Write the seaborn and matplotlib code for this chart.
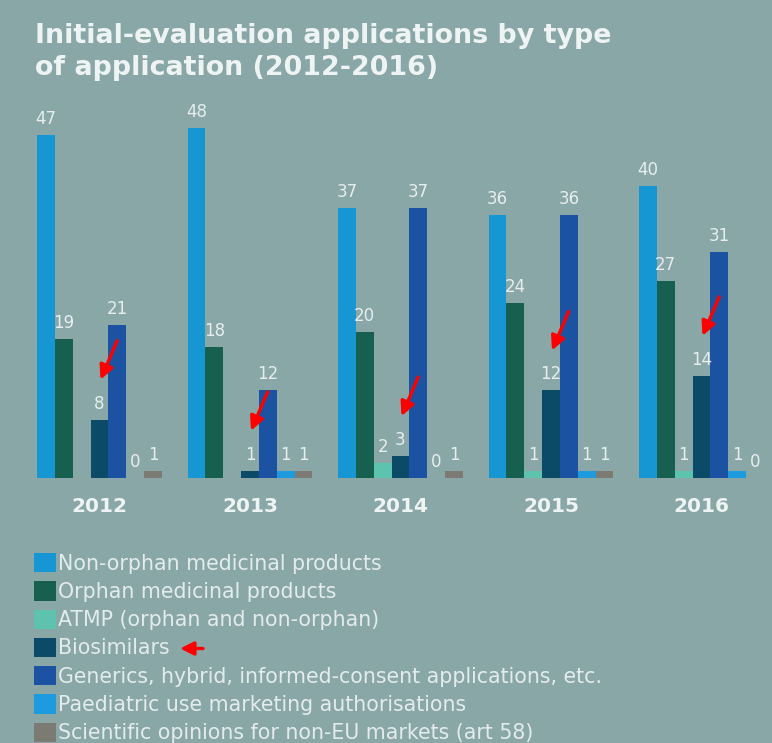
import numpy as np
import pandas as pd
import matplotlib
matplotlib.use("Agg")
import matplotlib.pyplot as plt
from matplotlib.patches import Patch
from matplotlib.transforms import offset_copy
import seaborn as sns

# Initial-evaluation applications, counts per year and application type
years = ["2012", "2013", "2014", "2015", "2016"]
non_orphan = [47, 48, 37, 36, 40]
orphan = [19, 18, 20, 24, 27]
atmp = [np.nan, np.nan, 2, 1, 1]
biosimilars = [8, 1, 3, 12, 14]
generics = [21, 12, 37, 36, 31]
paediatric = [0, 1, 0, 1, 1]
scientific = [1, 1, 1, 1, 0]

types = [
    "Non-orphan medicinal products",
    "Orphan medicinal products",
    "ATMP (orphan and non-orphan)",
    "Biosimilars",
    "Generics, hybrid, informed-consent applications, etc.",
    "Paediatric use marketing authorisations",
    "Scientific opinions for non-EU markets (art 58)",
]
colors = ["#1697d3", "#17604f", "#5ec3ae", "#0c4b68", "#1b52a2", "#1e9ade", "#7b7b73"]

series = [non_orphan, orphan, atmp, biosimilars, generics, paediatric, scientific]
df = pd.DataFrame(
    [(y, t, v) for t, vals in zip(types, series) for y, v in zip(years, vals)],
    columns=["year", "type", "count"],
)

bg = "#8aa7a7"
txt = "#eef3f3"

sns.set_theme(style="white")
plt.rcParams["font.family"] = ["DejaVu Sans"]

W, H = 772, 743
fig = plt.figure(figsize=(W / 100, H / 100), dpi=100)
fig.patch.set_facecolor(bg)

ax = fig.add_axes([0, 265 / H, 1, 365 / H])
ax.set_facecolor(bg)

sns.barplot(
    data=df, x="year", y="count", hue="type", hue_order=types,
    palette=colors, width=0.83, saturation=1, gap=0, legend=False,
    linewidth=0, edgecolor="none", ax=ax,
)

ax.set_ylim(0, 50)
ax.set_xlim(-99.5 / 150.5, (W - 99.5) / 150.5)
for s in ax.spines.values():
    s.set_visible(False)
ax.set_yticks([])
ax.set_xlabel("")
ax.set_ylabel("")
ax.tick_params(axis="x", length=0, pad=14, labelsize=14.5, labelcolor=txt)
for lab in ax.get_xticklabels():
    lab.set_fontweight("bold")

# value labels above every bar
for cont in ax.containers:
    ax.bar_label(
        cont, labels=[f"{int(v)}" for v in cont.datavalues],
        padding=5, fontsize=12, color="#e6eeee",
    )

# red arrows pointing at the biosimilar bars
bio = ax.containers[types.index("Biosimilars")]
head_tr = offset_copy(ax.transData, fig=fig, x=1, y=40, units="dots")
for bar in bio:
    xc = bar.get_x() + bar.get_width() / 2
    ax.annotate(
        "", xy=(xc, bar.get_height()), xycoords=head_tr,
        xytext=(12, 28), textcoords="offset points",
        arrowprops=dict(arrowstyle="-|>", color="#ff0000", lw=2.4,
                        mutation_scale=21, shrinkA=0, shrinkB=0),
    )

# title
fig.text(35 / W, 1 - 23 / H,
         "Initial-evaluation applications by type\nof application (2012-2016)",
         ha="left", va="top", fontsize=19.4, fontweight="bold", color=txt,
         linespacing=1.32)

# legend
handles = [Patch(facecolor=c, edgecolor="none") for c in colors]
leg = fig.legend(
    handles, types, loc="upper left",
    bbox_to_anchor=(34 / W, 1 - 553 / H), frameon=False,
    fontsize=14.8, handlelength=1.07, handleheight=1.07,
    handletextpad=0.1, labelspacing=0.37, borderpad=0, borderaxespad=0,
)
for t in leg.get_texts():
    t.set_color("#e3ecec")

bio_text = leg.get_texts()[types.index("Biosimilars")]
fig.canvas.draw()
ax.annotate(
    "", xy=(1, 0.5), xycoords=bio_text,
    xytext=(24, 0), textcoords="offset points",
    arrowprops=dict(arrowstyle="-|>", color="#ff0000", lw=2.4,
                    mutation_scale=20, shrinkA=0, shrinkB=7.5),
    annotation_clip=False,
)

fig.savefig("out.png", dpi=100, facecolor=bg)
